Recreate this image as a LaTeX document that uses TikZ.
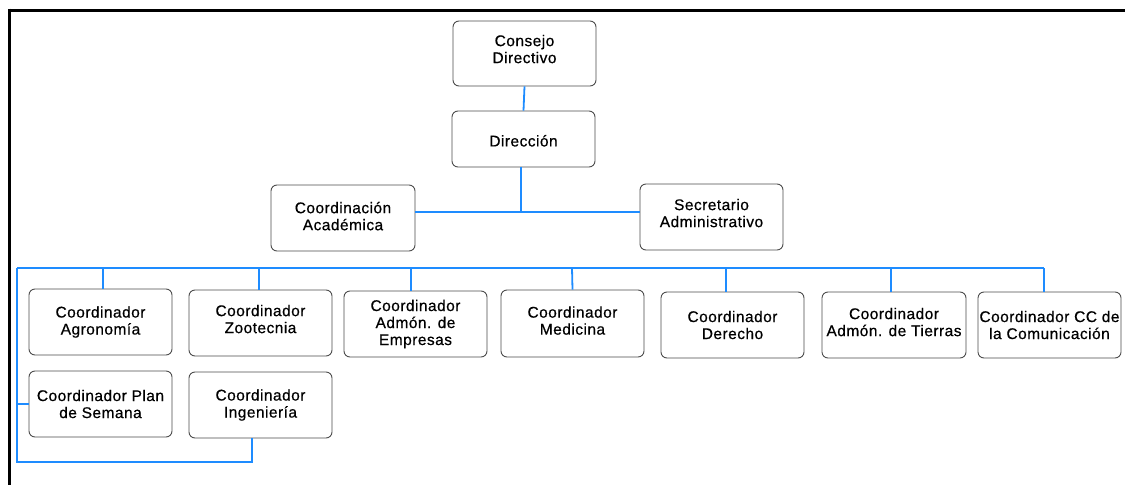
\documentclass[tikz,border=0pt]{standalone}
\usepackage{fontspec}
\setmainfont{Liberation Sans}
\newfontfamily\lblfont{Liberation Sans}[LetterSpace=3, FakeBold=0.5]
\begin{document}
\begin{tikzpicture}[x=1pt,y=-1pt,
  box/.style={draw=black!70, line width=0.9pt, rounded corners=6pt, fill=white,
    minimum width=143pt, minimum height=66pt, align=center, inner sep=0pt,
    font=\lblfont\fontsize{15.5}{17}\selectfont},
  lift/.style={text depth=#1},
  link/.style={draw={rgb,255:red,30;green,140;blue,255}, line width=1.8pt}]
\useasboundingbox (0,0) rectangle (1125,485);
% outer frame: top and left edges only
\draw[line width=3pt] (8,10) -- (1125,10);
\draw[line width=3pt] (9.5,8.5) -- (9.5,485);

% upper levels
\node[box, minimum height=65pt, lift=9pt] (cons) at (524.5,53.5) {Consejo\\Directivo};
\node[box, minimum height=56pt, text height=15pt] (dir) at (523.5,139) {Dirección};
\node[box, minimum width=144pt, lift=4pt] (acad) at (343,218) {Coordinación\\Académica};
\node[box, lift=8pt] (sec) at (711.5,217) {Secretario\\Administrativo};

% coordinators, first row
\node[box] (agro) at (100.5,322) {Coordinador\\Agronomía};
\node[box, lift=8pt] (zoo) at (260.5,323) {Coordinador\\Zootecnia};
\node[box] (emp) at (415.5,324) {Coordinador\\Admón. de\\Empresas};
\node[box, minimum height=67pt, lift=6pt] (med) at (572.5,323.5) {Coordinador\\Medicina};
\node[box] (der) at (732.5,325) {Coordinador\\Derecho};
\node[box, minimum width=144pt, lift=6pt] (tie) at (894,325) {Coordinador\\Admón. de Tierras};
\node[box] (com) at (1049.5,325) {Coordinador CC de\\la Comunicación};

% coordinators, second row
\node[box] (plan) at (100.5,404) {Coordinador Plan\\de Semana};
\node[box] (ing) at (260.5,405) {Coordinador\\Ingeniería};

% bus points
\coordinate (busL) at (17,268);
\coordinate (busR) at (1044,268);
\coordinate (mid) at (521,212);
\coordinate (lowL) at (17,462);
\coordinate (lowR) at (252,462);

% connectors
\draw[link] (cons.south) -- (dir.north);
\draw[link] (dir.south -| mid) -- (mid);
\draw[link] (acad.east |- mid) -- (sec.west |- mid);
\draw[link] (busL) -- (busR);
\draw[link] (busL) -- (lowL) -- (lowR) -- (ing.south -| lowR);
\draw[link] (busL |- plan.west) -- (plan.west);
\draw[link] (103,268) -- ([xshift=2.5pt]agro.north);
\draw[link] (259,268) -- ([xshift=-1.5pt]zoo.north);
\draw[link] (411,268) -- ([xshift=-4.5pt]emp.north);
\draw[link] (572,268) -- (med.north);
\draw[link] (726,268) -- ([xshift=-6.5pt]der.north);
\draw[link] (891,268) -- ([xshift=-3pt]tie.north);
\draw[link] (busR) -- ([xshift=-5.5pt]com.north);
\end{tikzpicture}
\end{document}
